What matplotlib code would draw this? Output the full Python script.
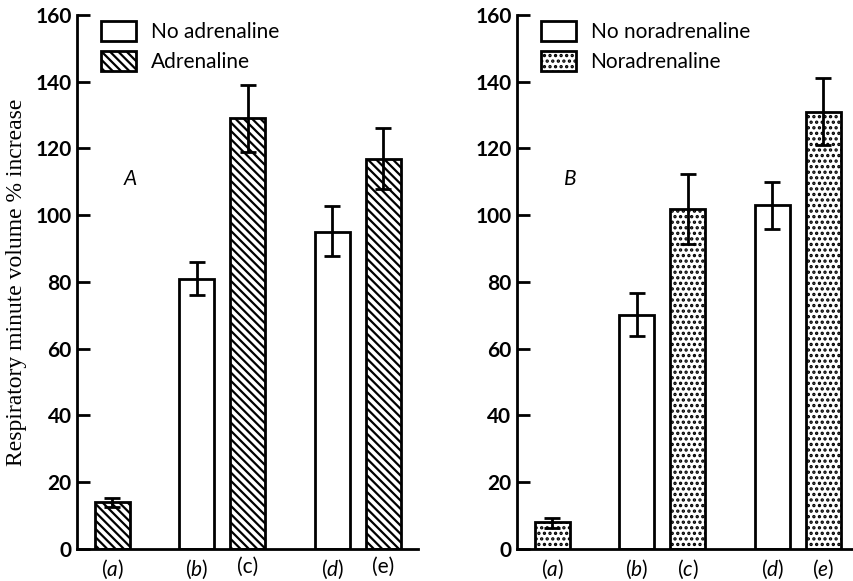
import numpy as np
import matplotlib.pyplot as plt
from matplotlib.patches import Patch

plt.rcParams['font.family'] = ['Lato', 'DejaVu Sans']
plt.rcParams['mathtext.fontset'] = 'custom'
plt.rcParams['mathtext.it'] = 'Lato:italic'
plt.rcParams['mathtext.rm'] = 'Lato'
plt.rcParams['hatch.linewidth'] = 1.6

# data
labels_a = ['($\\it{a}$)', '($\\it{b}$)', '(c)', '($\\it{d}$)', '(e)']
labels_b = ['($\\it{a}$)', '($\\it{b}$)', '($\\it{c}$)', '($\\it{d}$)', '($\\it{e}$)']
xpos = [0, 1.66, 2.66, 4.32, 5.32]
treated = [True, False, True, False, True]

adr_mean = [14, 81, 129, 95, 117]
adr_hi = [15.3, 86, 139, 102.7, 126.2]
adr_lo = [12.5, 76, 119, 87.7, 108]

nor_mean = [8, 70, 102, 103, 131]
nor_hi = [9.2, 76.8, 112.5, 110, 141]
nor_lo = [6.2, 63.8, 91.5, 96, 121]

fig = plt.figure(figsize=(8.54, 5.81), dpi=100)
axA = fig.add_axes([0.0902, 0.0551, 0.3993, 0.9191])
axB = fig.add_axes([0.6054, 0.0551, 0.3946, 0.9191])


def panel(ax, mean, hi, lo, hatch, xlabels, names, letter, xmax):
    mean = np.array(mean)
    yerr = [mean - np.array(lo), np.array(hi) - mean]
    for x, m, t in zip(xpos, mean, treated):
        ax.bar(x, m, width=0.69, color='white', edgecolor='black',
               linewidth=2, hatch=hatch if t else None, zorder=2)
    ax.errorbar(xpos, mean, yerr=yerr, fmt='none', ecolor='black',
                elinewidth=2, capsize=6, capthick=2, zorder=3)
    ax.set_xlim(-0.69, xmax)
    ax.set_ylim(0, 160)
    ax.set_yticks(np.arange(0, 161, 20))
    ax.set_xticks(xpos)
    ax.set_xticklabels(xlabels, fontsize=15)
    ax.tick_params(axis='x', length=0, pad=6)
    ax.tick_params(axis='y', direction='in', length=9, width=2,
                   labelsize=15, pad=4)
    for lab in ax.get_yticklabels():
        lab.set_fontweight('bold')
    for s in ['top', 'right']:
        ax.spines[s].set_visible(False)
    for s in ['left', 'bottom']:
        ax.spines[s].set_linewidth(2)
    ax.text(0.36, 111, letter, fontsize=15, style='italic',
            ha='center', va='center')
    handles = [Patch(facecolor='white', edgecolor='black', linewidth=2, label=names[0]),
               Patch(facecolor='white', edgecolor='black', linewidth=2, hatch=hatch,
                     label=names[1])]
    ax.legend(handles=handles, loc='upper left', bbox_to_anchor=(0.045, 1.005),
              frameon=False, fontsize=15, handlelength=1.7, handleheight=1.1,
              handletextpad=0.7, labelspacing=0.45, borderaxespad=0)


panel(axA, adr_mean, adr_hi, adr_lo, '\\\\\\\\', labels_a,
      ['No adrenaline', 'Adrenaline'], 'A', 6.0)
panel(axB, nor_mean, nor_hi, nor_lo, '...', labels_b,
      ['No noradrenaline', 'Noradrenaline'], 'B', 5.92)

axA.set_ylabel('Respiratory minute volume % increase', fontsize=17,
               family=['Liberation Serif', 'DejaVu Serif'], labelpad=6)

fig.savefig('out.png', dpi=100)
